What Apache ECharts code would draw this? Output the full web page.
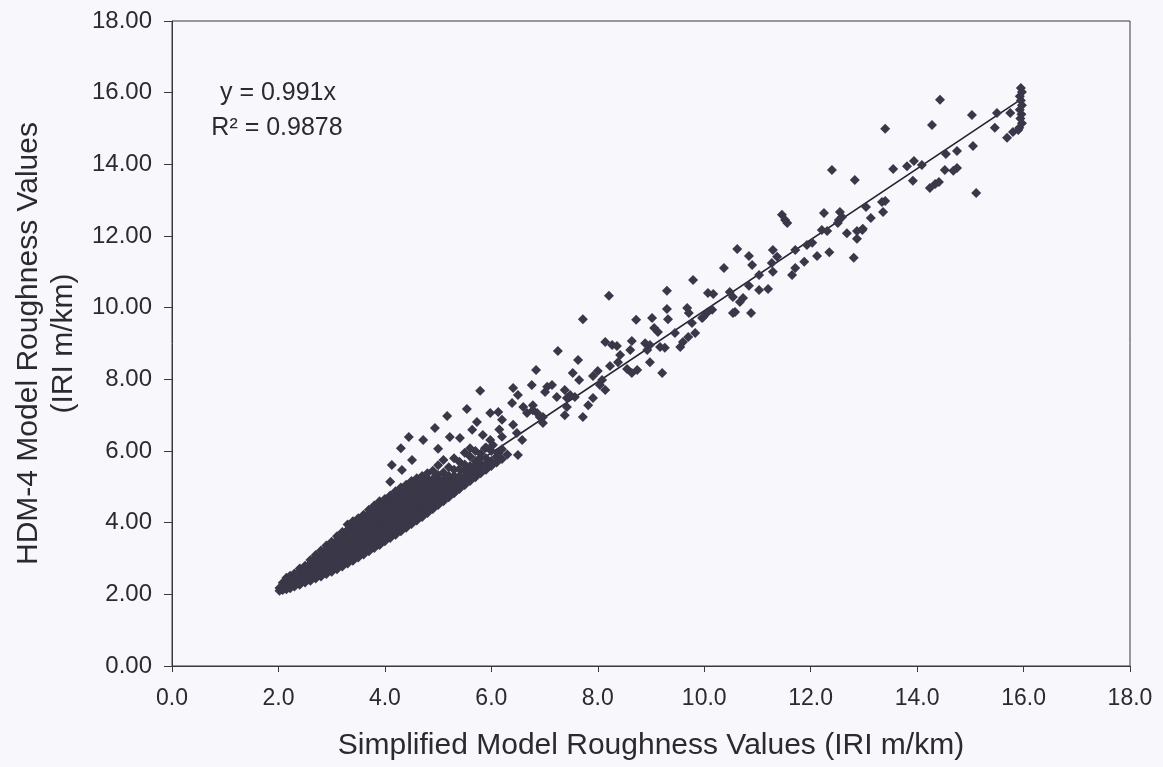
<!DOCTYPE html>
<html>
<head>
<meta charset="utf-8">
<script src="https://cdn.jsdelivr.net/npm/echarts@6/dist/echarts.min.js"></script>
<style>
html,body{margin:0;padding:0;background:#f7f7fc;}
#chart{width:1163px;height:767px;}
</style>
</head>
<body>
<div id="chart"></div>
<script>
// ---- data ----
var xTicks = ['0.0','2.0','4.0','6.0','8.0','10.0','12.0','14.0','16.0','18.0'];
var yTicks = ['0.00','2.00','4.00','6.00','8.00','10.00','12.00','14.00','16.00','18.00'];
var xTitle = 'Simplified Model Roughness Values (IRI m/km)';
var yTitle = 'HDM-4 Model Roughness Values\n(IRI m/km)';
var eqText = 'y = 0.991x';
var r2Text = 'R\u00b2 = 0.9878';

// dense band: [x, [y values]]
var denseColumns = [
  [2.02, [2.10, 2.18]],
  [2.08, [2.12, 2.22, 2.32]],
  [2.15, [2.14, 2.26, 2.38, 2.46]],
  [2.22, [2.17, 2.29, 2.41, 2.52]],
  [2.30, [2.22, 2.34, 2.46, 2.58]],
  [2.40, [2.27, 2.39, 2.51, 2.63, 2.72]],
  [2.50, [2.33, 2.45, 2.57, 2.69, 2.80]],
  [2.60, [2.38, 2.50, 2.62, 2.74, 2.86, 2.96]],
  [2.70, [2.44, 2.56, 2.68, 2.80, 2.92, 3.02, 3.10]],
  [2.80, [2.50, 2.62, 2.74, 2.86, 2.98, 3.10, 3.22]],
  [2.90, [2.57, 2.69, 2.81, 2.93, 3.05, 3.17, 3.26, 3.36]],
  [3.00, [2.63, 2.75, 2.87, 2.99, 3.11, 3.23, 3.35, 3.47]],
  [3.10, [2.70, 2.82, 2.94, 3.06, 3.18, 3.30, 3.42, 3.50, 3.62]],
  [3.20, [2.78, 2.90, 3.02, 3.14, 3.26, 3.38, 3.50, 3.62, 3.74]],
  [3.30, [2.86, 2.98, 3.10, 3.22, 3.34, 3.46, 3.58, 3.70, 3.80, 3.95]],
  [3.40, [2.94, 3.06, 3.18, 3.30, 3.42, 3.54, 3.66, 3.78, 3.90, 4.04]],
  [3.50, [3.03, 3.15, 3.27, 3.39, 3.51, 3.63, 3.75, 3.87, 3.99, 4.12]],
  [3.60, [3.11, 3.23, 3.35, 3.47, 3.59, 3.71, 3.83, 3.95, 4.08, 4.22]],
  [3.70, [3.20, 3.32, 3.44, 3.56, 3.68, 3.80, 3.92, 4.04, 4.16, 4.26, 4.36]],
  [3.80, [3.29, 3.41, 3.53, 3.65, 3.77, 3.89, 4.01, 4.13, 4.25, 4.38, 4.48]],
  [3.90, [3.38, 3.50, 3.62, 3.74, 3.86, 3.98, 4.10, 4.22, 4.34, 4.47, 4.60]],
  [4.00, [3.48, 3.60, 3.72, 3.84, 3.96, 4.08, 4.20, 4.32, 4.44, 4.56, 4.66]],
  [4.10, [3.57, 3.69, 3.81, 3.93, 4.05, 4.17, 4.29, 4.41, 4.53, 4.65, 4.76]],
  [4.20, [3.66, 3.78, 3.90, 4.02, 4.14, 4.26, 4.38, 4.50, 4.62, 4.74, 4.88]],
  [4.30, [3.76, 3.88, 4.00, 4.12, 4.24, 4.36, 4.48, 4.60, 4.72, 4.84, 4.98]],
  [4.40, [3.86, 3.98, 4.10, 4.22, 4.34, 4.46, 4.58, 4.70, 4.82, 4.94, 5.06]],
  [4.50, [3.96, 4.08, 4.20, 4.32, 4.44, 4.56, 4.68, 4.80, 4.92, 5.04, 5.16]],
  [4.60, [4.06, 4.18, 4.30, 4.42, 4.54, 4.66, 4.78, 4.90, 5.02, 5.14, 5.24]],
  [4.70, [4.16, 4.28, 4.40, 4.52, 4.64, 4.76, 4.88, 5.00, 5.12, 5.30]],
  [4.80, [4.27, 4.39, 4.51, 4.63, 4.75, 4.87, 4.99, 5.11, 5.23, 5.38]],
  [4.90, [4.38, 4.50, 4.62, 4.74, 4.86, 4.98, 5.10, 5.22, 5.45]],
  [5.00, [4.49, 4.61, 4.73, 4.85, 4.97, 5.09, 5.21, 5.33, 5.60]],
  [5.10, [4.60, 4.72, 4.84, 4.96, 5.08, 5.20, 5.40, 5.75]],
  [5.20, [4.71, 4.83, 4.95, 5.07, 5.19, 5.31, 5.55]],
  [5.30, [4.82, 4.94, 5.06, 5.18, 5.30, 5.48, 5.80]],
  [5.40, [4.94, 5.06, 5.18, 5.30, 5.50, 5.70]],
  [5.50, [5.05, 5.17, 5.29, 5.45, 5.62, 5.95]],
  [5.60, [5.16, 5.28, 5.40, 5.58, 5.85]],
  [5.70, [5.27, 5.39, 5.55, 5.72, 6.00]],
  [5.80, [5.38, 5.50, 5.66, 5.92]],
  [5.90, [5.48, 5.62, 5.80, 6.10]],
  [6.00, [5.58, 5.72, 6.00]],
  [6.10, [5.68, 5.85]],
  [6.20, [5.78, 6.05]],
  [6.30, [5.90]]
];

// scattered points [x, y]
var sparsePoints = [
  [14.43,15.80],[13.40,14.99],[14.28,15.10],[15.03,15.38],[15.50,15.43],[15.75,15.43],[15.46,15.02],[15.69,14.74],[15.80,14.90],
  [15.95,16.13],[15.97,16.02],[15.93,15.90],[15.95,15.78],[15.97,15.65],[15.93,15.52],[15.96,15.40],[15.94,15.28],[15.97,15.15],[15.92,15.02],[15.90,14.96],
  [15.05,14.51],[14.54,14.29],[14.75,14.37],[13.55,13.87],[13.81,13.95],[13.94,14.09],[14.09,13.98],[13.92,13.54],[14.52,13.84],[14.68,13.82],[14.75,13.90],
  [14.24,13.34],[14.34,13.45],[14.41,13.51],[15.11,13.20],[13.34,12.95],[13.40,12.98],[13.36,12.67],[13.04,12.81],[13.13,12.50],[12.97,12.17],
  [12.83,13.56],[12.40,13.84],[11.46,12.59],[11.52,12.45],[11.56,12.36],[12.25,12.64],[12.55,12.67],[12.59,12.53],[12.51,12.36],[12.53,12.45],
  [12.68,12.08],[12.87,12.14],[12.98,12.20],[12.87,11.92],[12.81,11.39],[12.21,12.17],[12.31,12.14],[12.35,11.55],[12.12,11.44],[11.93,11.75],
  [12.03,11.81],[11.71,11.61],[11.88,11.28],[11.71,11.11],[11.65,10.91],[11.29,11.61],[11.37,11.42],[11.27,11.25],[11.29,11.00],[10.84,11.44],
  [10.90,11.19],[10.62,11.64],[10.37,11.11],[11.03,10.91],[10.84,10.61],[11.03,10.49],[11.20,10.52],[10.73,10.27],[10.67,10.16],[10.58,9.88],
  [10.54,9.85],[10.88,9.85],[10.48,10.44],[10.54,10.30],[10.07,10.41],[10.17,10.38],[10.15,9.94],[10.05,9.85],[9.96,9.71],
  [9.79,10.77],[9.30,10.47],[8.21,10.33],[7.72,9.68],[8.72,9.66],[9.02,9.71],[9.30,9.96],[9.32,9.68],[9.68,9.99],[9.71,9.85],[9.98,9.74],
  [9.77,9.57],[9.83,9.29],[9.60,9.04],[9.55,8.90],[9.70,9.18],[9.45,9.29],[9.06,9.43],[9.13,9.32],[8.64,9.07],[8.61,8.82],[8.14,9.04],
  [8.27,8.96],[8.36,8.93],[8.89,9.01],[8.98,8.96],[8.93,8.82],[9.17,8.90],[9.26,8.88],[8.42,8.68],[8.38,8.48],[8.23,8.37],[8.98,8.48],
  [8.55,8.29],[8.64,8.18],[8.74,8.26],[9.21,8.18],[8.00,8.23],[7.91,8.09],[8.08,7.98],[7.63,8.54],[7.53,8.18],[7.65,7.98],[7.25,8.79],
  [6.84,8.26],[6.76,7.84],[7.05,7.79],[7.14,7.84],[7.38,7.70],[7.48,7.56],[7.57,7.51],[7.42,7.48],[8.04,7.84],[8.14,7.70],[7.91,7.48],
  [7.82,7.28],[7.42,7.23],[7.38,7.00],[7.01,7.65],[7.23,7.51],[6.78,7.28],[6.86,7.06],[6.97,6.95],[7.72,6.95],
  [6.41,7.76],[6.50,7.56],[5.79,7.68],[5.54,7.17],[5.17,6.98],[4.94,6.64],[4.45,6.39],[4.72,6.31],[4.30,6.08],[5.00,6.06],[4.13,5.61],
  [4.32,5.47],[4.51,5.75],[4.10,5.14],[5.22,6.39],[5.41,6.36],[5.73,6.81],[5.64,6.59],[5.98,7.06],[6.13,7.09],[6.20,6.87],[6.39,7.34],
  [6.60,7.23],[6.67,7.06],[6.78,7.14],[6.91,6.95],[6.97,6.78],[6.41,6.73],[6.48,6.50],[6.58,6.31],[6.50,5.89],[6.13,5.94],[5.84,6.45],
  [5.98,6.31],[6.03,6.17],[5.88,6.08],[5.79,5.81],[6.20,6.40],[6.15,6.60],[5.60,6.08],[5.66,5.55],[5.73,5.39]
];

// fitted trend line end points (y = 0.991x)
var trendLine = [[2.05, 2.03], [16.00, 15.86]];

// ---- build chart ----
var points = sparsePoints.slice();
denseColumns.forEach(function (c) {
  c[1].forEach(function (y) { points.push([c[0], y]); });
});

var font = '"Liberation Sans", Arial, sans-serif';
var textColor = '#2b2b2f';
var markColor = '#3a3848';

var chart = echarts.init(document.getElementById('chart'), null, {renderer: 'canvas'});
chart.setOption({
  backgroundColor: '#f7f7fc',
  animation: false,
  grid: {
    left: 172, right: 33, top: 21, bottom: 101,
    show: true, borderColor: '#3a3a3a', borderWidth: 1, backgroundColor: 'transparent'
  },
  xAxis: {
    type: 'value', min: 0, max: 18, interval: 2,
    name: xTitle, nameLocation: 'middle', nameGap: 65,
    nameTextStyle: {fontFamily: font, fontSize: 30, color: textColor},
    axisLine: {show: true, onZero: false, lineStyle: {color: '#3a3a3a', width: 1}},
    axisTick: {show: true, inside: false, length: 6, lineStyle: {color: '#3a3a3a'}},
    axisLabel: {
      margin: 21, fontFamily: font, fontSize: 23, color: textColor,
      formatter: function (v) { return xTicks[Math.round(v / 2)]; }
    },
    splitLine: {show: false}
  },
  yAxis: {
    type: 'value', min: 0, max: 18, interval: 2,
    name: yTitle, nameLocation: 'middle', nameGap: 88, nameRotate: 90,
    nameTextStyle: {fontFamily: font, fontSize: 30, color: textColor, lineHeight: 35, align: 'center'},
    axisLine: {show: true, onZero: false, lineStyle: {color: '#3a3a3a', width: 1}},
    axisTick: {show: true, inside: false, length: 8, lineStyle: {color: '#3a3a3a'}},
    axisLabel: {
      margin: 20, fontFamily: font, fontSize: 24, color: textColor,
      formatter: function (v) { return yTicks[Math.round(v / 2)]; }
    },
    splitLine: {show: false}
  },
  graphic: [
    {type: 'text', x: 278, y: 93, style: {text: eqText, font: '25px ' + font, fill: textColor, align: 'center', verticalAlign: 'middle'}},
    {type: 'text', x: 277, y: 128, style: {text: r2Text, font: '25px ' + font, fill: textColor, align: 'center', verticalAlign: 'middle'}}
  ],
  series: [
    {
      type: 'line', data: trendLine, showSymbol: false, symbol: 'none',
      lineStyle: {color: '#242230', width: 1.6}, z: 2, silent: true
    },
    {
      type: 'scatter', data: points, symbol: 'diamond', symbolSize: 10,
      itemStyle: {color: markColor, opacity: 1}, z: 3, silent: true
    }
  ]
});
</script>
</body>
</html>
